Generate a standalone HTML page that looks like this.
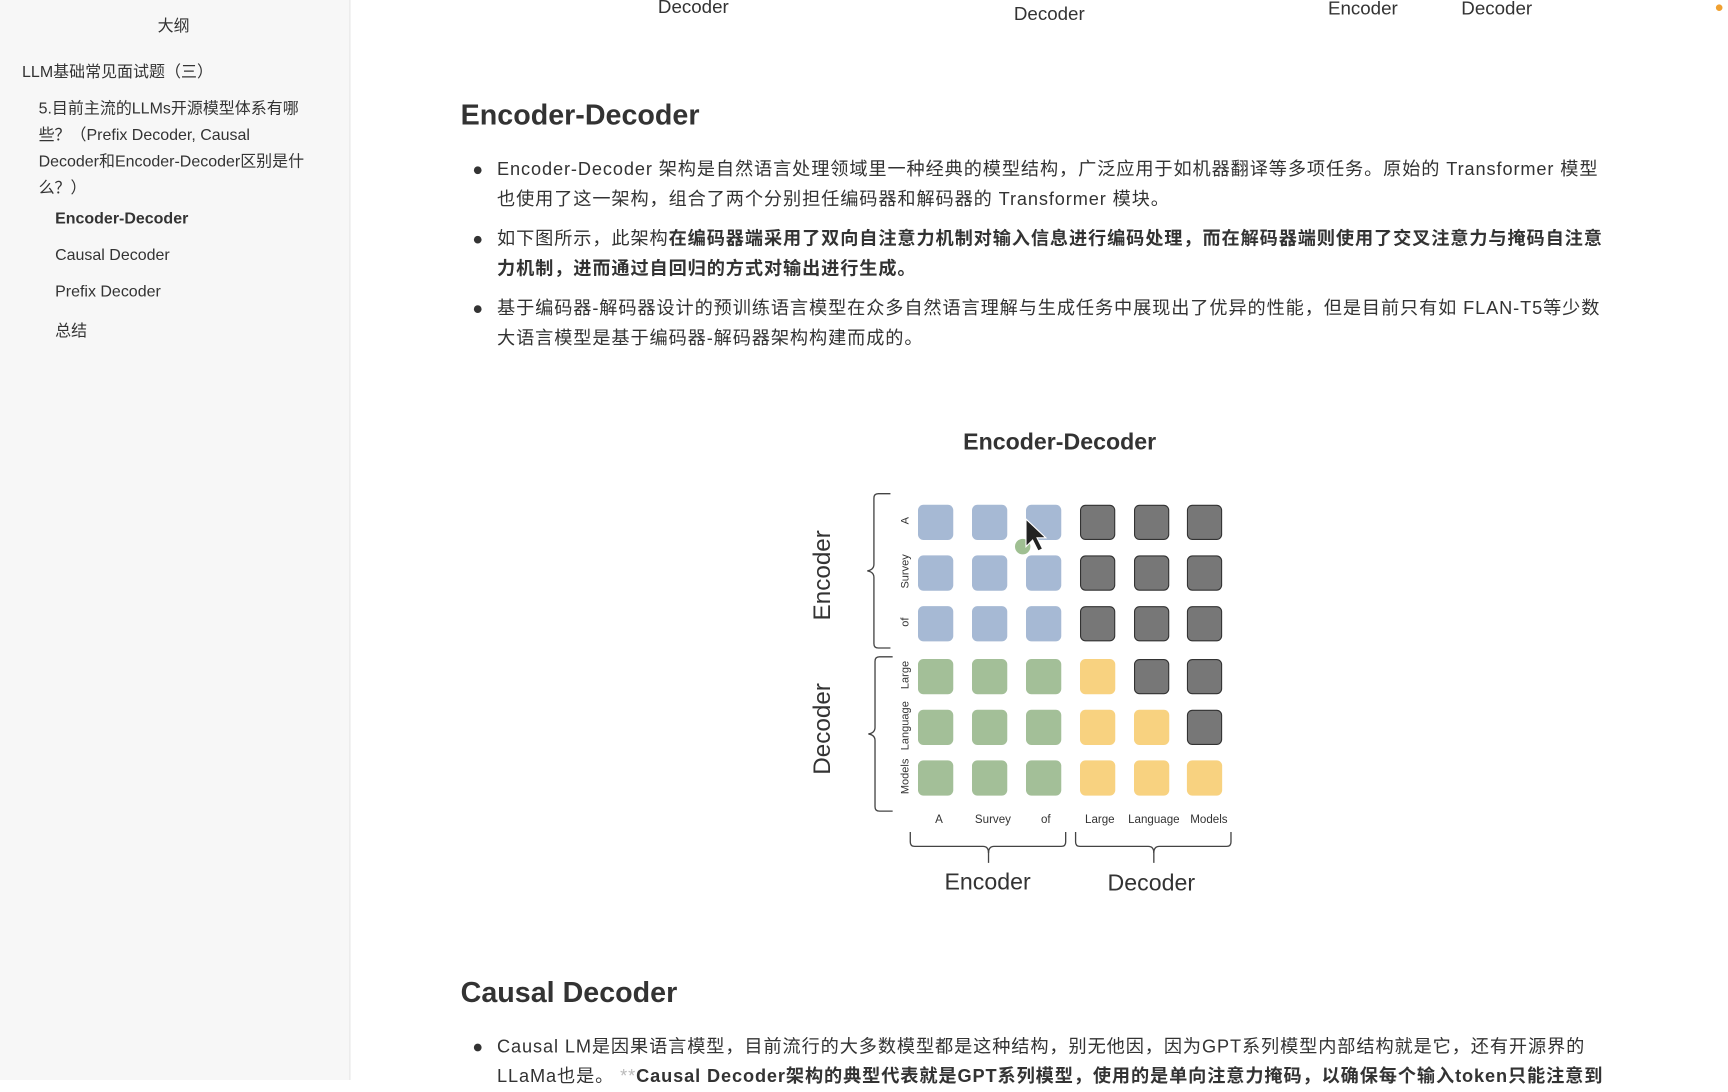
<!DOCTYPE html>
<html><head><meta charset="utf-8"><style>
html,body{margin:0;padding:0;background:#fff;overflow:hidden;width:1728px;height:1080px}
#w{position:absolute;left:0;top:0;width:1568px;height:980px;transform:scale(1.10204);transform-origin:0 0;font-family:"Liberation Sans","Noto Sans CJK SC",sans-serif;color:#333}
.a{position:absolute;white-space:nowrap}
#side{position:absolute;left:0;top:0;width:317px;height:980px;background:#f7f7f7;border-right:1px solid #e6e6e6}
.s{position:absolute;font-size:14.5px;color:#333;white-space:nowrap}
.p{position:absolute;left:451px;font-size:16.5px;line-height:27px;white-space:nowrap;letter-spacing:0.8px}
.dot{position:absolute;left:430px;width:7px;height:7px;border-radius:50%;background:#333}
.c{position:absolute;width:32px;height:32px;border-radius:5px}
.b{background:#a6b9d4}.g{background:#a3bf98}.y{background:#f8d280}.k{background:#777;border:1.5px solid #333;width:30px;height:30px}
.rl{position:absolute;font-size:10px;transform:rotate(-90deg);transform-origin:center;width:80px;text-align:center}
.cl{position:absolute;font-size:10.5px;top:738px;width:60px;text-align:center}
</style></head><body><div id="w">
<div id="side">
<div class="s" style="left:143px;top:12px">大纲</div>
<div class="s" style="left:20px;top:54px">LLM基础常见面试题（三）</div>
<div class="s" style="left:35px;top:87px;line-height:24px">5.目前主流的LLMs开源模型体系有哪<br>些？（Prefix Decoder, Causal<br>Decoder和Encoder-Decoder区别是什<br>么？）</div>
<div class="s" style="left:50px;top:191px;font-weight:bold">Encoder-Decoder</div>
<div class="s" style="left:50px;top:224px">Causal Decoder</div>
<div class="s" style="left:50px;top:257px">Prefix Decoder</div>
<div class="s" style="left:50px;top:289px">总结</div>
</div>
<div class="a" style="left:597px;top:-3px;font-size:17px">Decoder</div>
<div class="a" style="left:920px;top:3px;font-size:17px">Decoder</div>
<div class="a" style="left:1205px;top:-2px;font-size:17px">Encoder</div>
<div class="a" style="left:1326px;top:-2px;font-size:17px">Decoder</div>
<div style="position:absolute;left:1557px;top:4px;width:6px;height:6px;border-radius:50%;background:#f0a030"></div>
<div class="a" style="left:418px;top:89px;font-size:26px;font-weight:bold">Encoder-Decoder</div>
<div class="dot" style="top:151px"></div>
<div class="p" style="top:141px">Encoder-Decoder 架构是自然语言处理领域里一种经典的模型结构，广泛应用于如机器翻译等多项任务。原始的 Transformer 模型<br>也使用了这一架构，组合了两个分别担任编码器和解码器的 Transformer 模块。</div>
<div class="dot" style="top:214px"></div>
<div class="p" style="top:204px">如下图所示，此架构<b>在编码器端采用了双向自注意力机制对输入信息进行编码处理，而在解码器端则使用了交叉注意力与掩码自注意<br>力机制，进而通过自回归的方式对输出进行生成。</b></div>
<div class="dot" style="top:277px"></div>
<div class="p" style="top:267px">基于编码器-解码器设计的预训练语言模型在众多自然语言理解与生成任务中展现出了优异的性能，但是目前只有如 FLAN-T5等少数<br>大语言模型是基于编码器-解码器架构构建而成的。</div>
<div class="a" style="left:874px;top:390px;font-size:21px;font-weight:bold">Encoder-Decoder</div>
<div class="a" style="top:510px;font-size:22px;transform:rotate(-90deg);transform-origin:center;width:80px;left:706px;text-align:center">Encoder</div>
<div class="a" style="left:706px;top:650px;font-size:22px;transform:rotate(-90deg);transform-origin:center;width:80px;text-align:center">Decoder</div>
<svg style="position:absolute;left:0;top:0" width="1568" height="980" fill="none" stroke="#444" stroke-width="1.2">
<path d="M808 448 H797 Q793 448 793 452 V512 Q793 517 787 518 Q793 519 793 524 V584 Q793 588 797 588 H808"/>
<path d="M810 596 H798 Q794 596 794 600 V660 Q794 665 788 666 Q794 667 794 672 V732 Q794 736 798 736 H810"/>
<path d="M826 755 V764 Q826 768 830 768 H892 Q897 768 897 774 Q897 768 902 768 H963 Q967 768 967 764 V755"/>
<path d="M976 755 V764 Q976 768 980 768 H1042 Q1047 768 1047 774 Q1047 768 1052 768 H1113 Q1117 768 1117 764 V755"/>
<path d="M897 772 V783 M1047 772 V783"/>
</svg>
<div class="rl" style="left:782px;top:467px">A</div>
<div class="rl" style="left:782px;top:513px">Survey</div>
<div class="rl" style="left:782px;top:559px">of</div>
<div class="rl" style="left:782px;top:607px">Large</div>
<div class="rl" style="left:782px;top:653px">Language</div>
<div class="rl" style="left:782px;top:699px">Models</div>
<div class="c b" style="left:833px;top:458px"></div><div class="c b" style="left:882px;top:458px"></div><div class="c b" style="left:931px;top:458px"></div>
<div class="c k" style="left:980px;top:458px"></div><div class="c k" style="left:1029px;top:458px"></div><div class="c k" style="left:1077px;top:458px"></div>
<div class="c b" style="left:833px;top:504px"></div><div class="c b" style="left:882px;top:504px"></div><div class="c b" style="left:931px;top:504px"></div>
<div class="c k" style="left:980px;top:504px"></div><div class="c k" style="left:1029px;top:504px"></div><div class="c k" style="left:1077px;top:504px"></div>
<div class="c b" style="left:833px;top:550px"></div><div class="c b" style="left:882px;top:550px"></div><div class="c b" style="left:931px;top:550px"></div>
<div class="c k" style="left:980px;top:550px"></div><div class="c k" style="left:1029px;top:550px"></div><div class="c k" style="left:1077px;top:550px"></div>
<div class="c g" style="left:833px;top:598px"></div><div class="c g" style="left:882px;top:598px"></div><div class="c g" style="left:931px;top:598px"></div>
<div class="c y" style="left:980px;top:598px"></div><div class="c k" style="left:1029px;top:598px"></div><div class="c k" style="left:1077px;top:598px"></div>
<div class="c g" style="left:833px;top:644px"></div><div class="c g" style="left:882px;top:644px"></div><div class="c g" style="left:931px;top:644px"></div>
<div class="c y" style="left:980px;top:644px"></div><div class="c y" style="left:1029px;top:644px"></div><div class="c k" style="left:1077px;top:644px"></div>
<div class="c g" style="left:833px;top:690px"></div><div class="c g" style="left:882px;top:690px"></div><div class="c g" style="left:931px;top:690px"></div>
<div class="c y" style="left:980px;top:690px"></div><div class="c y" style="left:1029px;top:690px"></div><div class="c y" style="left:1077px;top:690px"></div>
<svg style="position:absolute;left:918px;top:468px" width="40" height="40"><circle cx="10" cy="28" r="7" fill="#9fbf92"/><path d="M13 3 V28 L19 22 L24 32 L28 30 L23 20 L31 20 Z" fill="#222" stroke="#fff" stroke-width="1"/></svg>
<div class="cl" style="left:822px">A</div>
<div class="cl" style="left:871px">Survey</div>
<div class="cl" style="left:919px">of</div>
<div class="cl" style="left:968px">Large</div>
<div class="cl" style="left:1017px">Language</div>
<div class="cl" style="left:1067px">Models</div>
<div class="a" style="left:857px;top:789px;font-size:21px">Encoder</div>
<div class="a" style="left:1005px;top:790px;font-size:21px">Decoder</div>
<div class="a" style="left:418px;top:885px;font-size:26px;font-weight:bold">Causal Decoder</div>
<div class="dot" style="top:947px"></div>
<div class="p" style="top:937px">Causal LM是因果语言模型，目前流行的大多数模型都是这种结构，别无他因，因为GPT系列模型内部结构就是它，还有开源界的<br>LLaMa也是。 <span style="color:#bbb">**</span><b>Causal Decoder架构的典型代表就是GPT系列模型，使用的是单向注意力掩码，以确保每个输入token只能注意到</b></div>
</div></body></html>
